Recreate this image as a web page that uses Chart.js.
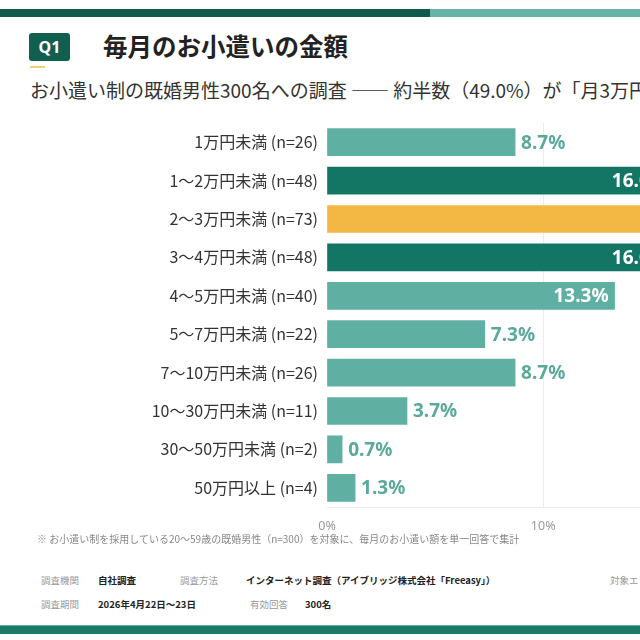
<!DOCTYPE html>
<html>
<head>
<meta charset="utf-8">
<script src="https://cdn.jsdelivr.net/npm/chart.js@4"></script>
<style>
  html, body { margin: 0; padding: 0; width: 640px; height: 640px; overflow: hidden; background: #fff; }
  body { position: relative; font-family: "Noto Sans CJK JP", "Noto Sans", sans-serif; color: #333; }
  .bar-top { position: absolute; top: 9px; left: 0; height: 8px; width: 430px; background: #0e5b4b; }
  .bar-top2 { position: absolute; top: 9px; left: 430px; height: 8px; width: 600px; background: #66b4a7; }
  .badge { position: absolute; left: 29px; top: 33px; width: 41px; height: 28px; background: #11604f; border-radius: 3px;
    color: #fff; font-weight: bold; font-size: 16px; line-height: 28px; text-align: center; font-family: "Noto Sans", sans-serif; }
  .uline { position: absolute; left: 30px; top: 66px; width: 15px; height: 2px; background: #f0cf7a; }
  .title { position: absolute; left: 103px; top: 28px; font-size: 24.5px; font-weight: bold; color: #222; white-space: nowrap; }
  .sub { position: absolute; left: 30px; top: 76px; font-size: 19px; color: #333; white-space: nowrap; }
  .note { position: absolute; left: 37px; top: 531px; font-size: 10px; color: #888; white-space: nowrap; }
  .meta { position: absolute; font-size: 9.5px; white-space: nowrap; }
  .meta.k { color: #999; }
  .meta.v { color: #222; font-weight: bold; }
  .bot { position: absolute; left: 0; top: 625px; width: 640px; height: 8px; background: #1b7a68; border-top: 1px solid #5fb0a2; }
  #wrap { position: absolute; left: 0; top: 100px; }
</style>
</head>
<body>
<div class="bar-top"></div><div class="bar-top2"></div>
<div class="badge">Q1</div>
<div class="uline"></div>
<div class="title">毎月のお小遣いの金額</div>
<div class="sub">お小遣い制の既婚男性300名への調査 ―― 約半数（49.0%）が「月3万円未満」と回答</div>
<div id="wrap"><canvas id="chart" width="1000" height="450"></canvas></div>
<div class="note">※ お小遣い制を採用している20～59歳の既婚男性（n=300）を対象に、毎月のお小遣い額を単一回答で集計</div>
<div class="meta k" style="left:41px;top:573px">調査機関</div>
<div class="meta v" style="left:98px;top:573px">自社調査</div>
<div class="meta k" style="left:180px;top:573px">調査方法</div>
<div class="meta v" style="left:246px;top:573px">インターネット調査（アイブリッジ株式会社「Freeasy」）</div>
<div class="meta k" style="left:610px;top:573px">対象エリア</div>
<div class="meta k" style="left:41px;top:597px">調査期間</div>
<div class="meta v" style="left:98px;top:597px">2026年4月22日～23日</div>
<div class="meta k" style="left:250px;top:597px">有効回答</div>
<div class="meta v" style="left:305px;top:597px">300名</div>
<div class="bot"></div>
<script>
const ctx = document.getElementById("chart");

let labels = [
  "1万円未満 (n=26)",
  "1〜2万円未満 (n=48)",
  "2〜3万円未満 (n=73)",
  "3〜4万円未満 (n=48)",
  "4〜5万円未満 (n=40)",
  "5〜7万円未満 (n=22)",
  "7〜10万円未満 (n=26)",
  "10〜30万円未満 (n=11)",
  "30〜50万円未満 (n=2)",
  "50万円以上 (n=4)",
];
let values = [8.7, 16.0, 24.3, 16.0, 13.3, 7.3, 8.7, 3.7, 0.7, 1.3];
let tickValues = [0, 10, 20, 30];

const light = "#5fb0a2";
const dark = "#137665";
const gold = "#f3b843";
let colors = values.map((v) => light);
colors[1] = dark;
colors[3] = dark;
colors[2] = gold;

// value labels: inside (white) for big bars, outside (teal) for small
const valueLabels = {
  id: "valueLabels",
  afterDatasetsDraw(chart) {
    const c = chart.ctx;
    const meta = chart.getDatasetMeta(0);
    c.save();
    c.font = "bold 19px 'Noto Sans', sans-serif";
    c.textBaseline = "middle";
    meta.data.forEach((bar, i) => {
      const txt = values[i].toFixed(1) + "%";
      if (values[i] >= 12) {
        c.fillStyle = "#fff";
        c.textAlign = "right";
        c.fillText(txt, bar.x - 6, bar.y + 1);
      } else {
        c.fillStyle = "#5aa99b";
        c.textAlign = "left";
        c.fillText(txt, bar.x + 6, bar.y + 1);
      }
    });
    c.restore();
  },
};

new Chart(ctx, {
  type: "bar",
  data: {
    labels: labels,
    datasets: [
      {
        data: values,
        backgroundColor: colors,
        barThickness: 27,
        borderSkipped: false,
      },
    ],
  },
  options: {
    indexAxis: "y",
    responsive: false,
    animation: false,
    layout: { padding: { top: 23, right: 13, bottom: 4, left: 0 } },
    scales: {
      x: {
        min: 0,
        max: 30,
        afterBuildTicks: (scale) => {
          scale.ticks = tickValues.map((v) => ({ value: v }));
        },
        grid: {
          drawTicks: false,
          color: (c) => (c.tick && c.tick.value === 0 ? "rgba(0,0,0,0)" : "#ececec"),
        },
        border: { color: "#ececec" },
        ticks: {
          padding: 12,
          color: "#999",
          font: { size: 12.5, family: "'Noto Sans', sans-serif" },
          callback: (v) => v + "%",
        },
      },
      y: {
        afterFit: (scale) => {
          scale.width = 327;
        },
        grid: { display: false, drawTicks: false },
        border: { display: false },
        ticks: {
          padding: 9,
          color: "#333",
          font: { size: 16, family: "'Noto Sans CJK JP', sans-serif" },
        },
      },
    },
    plugins: {
      legend: { display: false },
      tooltip: { enabled: false },
    },
  },
  plugins: [valueLabels],
});
</script>
</body>
</html>
